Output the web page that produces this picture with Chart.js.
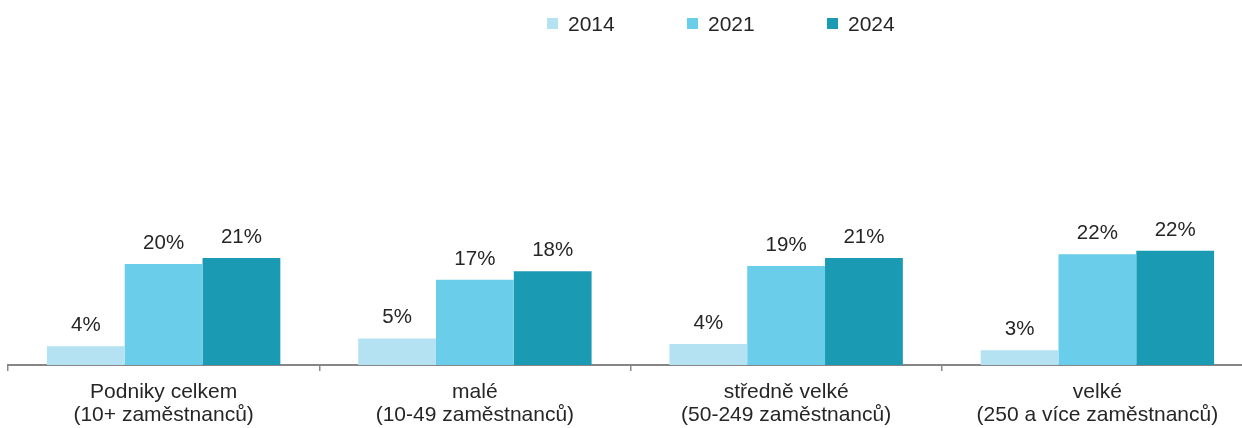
<!DOCTYPE html>
<html>
<head>
<meta charset="utf-8">
<script src="https://cdn.jsdelivr.net/npm/chart.js@4.4.1/dist/chart.umd.min.js"></script>
<style>
  html, body { margin: 0; padding: 0; background: #fff; overflow: hidden; }
  #wrap { width: 1253px; height: 428px; }
</style>
</head>
<body>
<div id="wrap"><canvas id="c" width="1253" height="428"></canvas></div>
<script>
const categories = [
  ["Podniky celkem", "(10+ zaměstnanců)"],
  ["malé", "(10-49 zaměstnanců)"],
  ["středně velké", "(50-249 zaměstnanců)"],
  ["velké", "(250 a více zaměstnanců)"]
];
const seriesNames = ["2014", "2021", "2024"];
const values2014 = [3.7, 5.2, 4.1, 2.9];
const values2021 = [19.8, 16.7, 19.4, 21.7];
const values2024 = [21.0, 18.4, 21.0, 22.4];
const colors = ["#B4E2F2", "#6ACEEB", "#1B9AB4"];

const FONT = "'Liberation Sans', Arial, sans-serif";
const TEXT = "#262626";

const valueLabels = {
  id: "valueLabels",
  afterDatasetsDraw(chart) {
    const ctx = chart.ctx;
    ctx.save();
    ctx.font = "20.5px " + FONT;
    ctx.fillStyle = TEXT;
    ctx.textAlign = "center";
    ctx.textBaseline = "alphabetic";
    chart.data.datasets.forEach((ds, i) => {
      const meta = chart.getDatasetMeta(i);
      meta.data.forEach((el, j) => {
        ctx.fillText(Math.round(ds.data[j]) + "%", el.x, el.y - 15);
      });
    });
    ctx.restore();
  }
};

const customLegend = {
  id: "customLegend",
  afterDraw(chart) {
    const ctx = chart.ctx;
    ctx.save();
    ctx.font = "21px " + FONT;
    ctx.textAlign = "left";
    ctx.textBaseline = "alphabetic";
    const startX = 547, gap = 140;
    chart.data.datasets.forEach((ds, i) => {
      const x = startX + i * gap;
      ctx.fillStyle = ds.backgroundColor;
      ctx.fillRect(x, 18, 11, 11);
      ctx.fillStyle = TEXT;
      ctx.fillText(ds.label, x + 21, 31);
    });
    ctx.restore();
  }
};

new Chart(document.getElementById("c"), {
  type: "bar",
  data: {
    labels: categories,
    datasets: [
      { label: seriesNames[0], data: values2014, backgroundColor: colors[0] },
      { label: seriesNames[1], data: values2021, backgroundColor: colors[1] },
      { label: seriesNames[2], data: values2024, backgroundColor: colors[2] }
    ]
  },
  options: {
    responsive: false,
    animation: false,
    events: [],
    devicePixelRatio: 1,
    layout: { padding: { top: 59, left: 8, right: 0, bottom: 0 } },
    datasets: { bar: { categoryPercentage: 0.75, barPercentage: 1.0, borderWidth: 0 } },
    plugins: { legend: { display: false }, tooltip: { enabled: false } },
    scales: {
      x: {
        afterFit(scale) { scale.height = 63; },
        grid: {
          offset: true,
          drawOnChartArea: false,
          drawTicks: true,
          tickLength: 6,
          color: "#8a8a8a",
          lineWidth: 1.5
        },
        border: { display: true, color: "#868686", width: 2 },
        ticks: {
          color: TEXT,
          font: { family: FONT, size: 21, lineHeight: 1.1 },
          padding: 10,
          maxRotation: 0,
          autoSkip: false
        }
      },
      y: {
        display: false,
        min: 0,
        max: 60
      }
    }
  },
  plugins: [valueLabels, customLegend]
});
</script>
</body>
</html>
